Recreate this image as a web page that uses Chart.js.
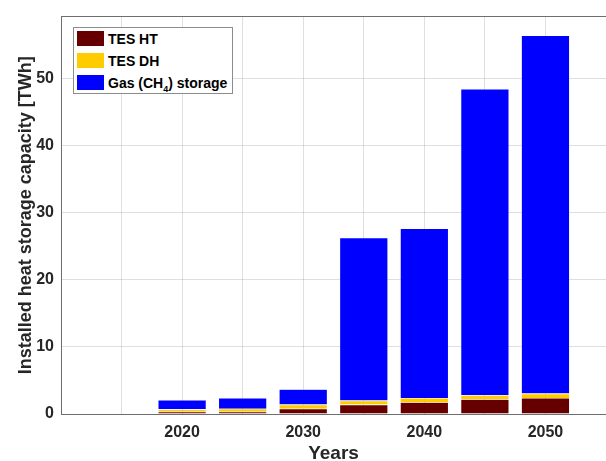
<!DOCTYPE html>
<html>
<head>
<meta charset="utf-8">
<script src="https://cdn.jsdelivr.net/npm/chart.js@4"></script>
<style>
  html, body { margin: 0; padding: 0; background: #fff; }
  #wrap { position: relative; width: 606px; height: 461px; }
  #legend {
    position: absolute; left: 73px; top: 27px; width: 158px; height: 65px;
    border: 1px solid #8c8c8c; background: #fff;
    font-family: "Liberation Sans", Arial, sans-serif; font-weight: bold; font-size: 14px; color: #000;
  }
  .row { position: absolute; left: 3px; height: 16px; line-height: 16px; white-space: nowrap; }
  .sw { display: inline-block; width: 27px; height: 15px; vertical-align: top; margin-right: 4px; }
  sub { font-size: 9px; line-height: 0; }
</style>
</head>
<body>
<div id="wrap">
  <canvas id="chart" width="606" height="461"></canvas>
  <div id="legend"></div>
</div>
<script>
// years of each bar
const years = [2020, 2025, 2030, 2035, 2040, 2045, 2050];
// installed capacity, TWh
const tesHT = [0.35, 0.35, 0.8, 1.4, 1.75, 2.2, 2.4];
const tesDH = [0.35, 0.45, 0.6, 0.6, 0.65, 0.6, 0.65];
const gasCH4 = [1.4, 1.6, 2.3, 24.3, 25.3, 45.7, 53.45];
const yTicks = [0, 10, 20, 30, 40, 50];
const xTicks = [2010, 2015, 2020, 2025, 2030, 2035, 2040, 2045, 2050, 2055];

const seriesNames = ['TES HT', 'TES DH', 'Gas (CH<sub>4</sub>) storage'];
const seriesPlain = ['TES HT', 'TES DH', 'Gas (CH\u2084) storage'];
const colors = ['#660000', '#ffcc00', '#0000ff'];

const FONT = '"Liberation Sans", Arial, sans-serif';
const gridColor = 'rgba(38,38,38,0.15)';
const axisColor = '#6e6e6e';

const pts = arr => years.map((x, i) => ({ x: x, y: arr[i] }));

const datasets = [tesHT, tesDH, gasCH4].map((arr, i) => ({
    label: seriesPlain[i],
    data: pts(arr),
    backgroundColor: colors[i],
    borderColor: 'rgba(255,255,255,0.3)',
    borderWidth: 0.6,
    barPercentage: 0.8,
    categoryPercentage: 1
}));

// no side padding on horizontal axes, plot runs to the right edge
const noPad = s => { s.paddingLeft = 0; s.paddingRight = 0; };

new Chart(document.getElementById('chart'), {
    type: 'bar',
    data: { datasets: datasets },
    options: {
        responsive: false,
        animation: false,
        layout: { padding: { top: 15, right: 0, left: 0, bottom: 0 } },
        plugins: { legend: { display: false }, tooltip: { enabled: false } },
        scales: {
            x: {
                type: 'linear',
                stacked: true,
                offset: false,
                min: 2010,
                max: 2055,
                afterBuildTicks: s => { s.ticks = xTicks.map(v => ({ value: v })); },
                afterFit: s => { s.height = 47; noPad(s); },
                ticks: {
                    autoSkip: false,
                    maxRotation: 0,
                    padding: 9,
                    color: '#262626',
                    font: { family: FONT, size: 16, weight: 'bold' },
                    callback: v => (v % 10 === 0 && v > 2010 && v < 2055) ? String(v) : ''
                },
                grid: { color: gridColor, drawTicks: false, offset: false },
                border: { color: axisColor, width: 1 },
                title: {
                    display: true, text: 'Years', color: '#262626',
                    font: { family: FONT, size: 19, weight: 'bold' },
                    padding: { top: 0, bottom: -4 }
                }
            },
            xTop: {
                type: 'linear',
                position: 'top',
                offset: false,
                min: 2010,
                max: 2055,
                afterFit: s => { s.height = 0; noPad(s); },
                ticks: { display: false },
                grid: { drawOnChartArea: false, drawTicks: false },
                border: { color: axisColor, width: 1 }
            },
            y: {
                stacked: true,
                min: 0,
                max: 59.3,
                afterBuildTicks: s => { s.ticks = yTicks.map(v => ({ value: v })); },
                afterFit: s => { s.width = 61; },
                ticks: {
                    padding: 7,
                    color: '#262626',
                    font: { family: FONT, size: 16, weight: 'bold' }
                },
                grid: { color: gridColor, drawTicks: false },
                border: { color: axisColor, width: 1 },
                title: {
                    display: true, text: 'Installed heat storage capacity [TWh]', color: '#262626',
                    font: { family: FONT, size: 18, weight: 'bold' },
                    padding: { top: 15, bottom: 0 }
                }
            }
        }
    }
});

// legend box drawn as html over the plot
const legend = document.getElementById('legend');
seriesNames.forEach((name, i) => {
    const row = document.createElement('div');
    row.className = 'row';
    row.style.top = (3 + i * 22) + 'px';
    row.innerHTML = `<span class="sw" style="background:${colors[i]}"></span>${name}`;
    legend.appendChild(row);
});
</script>
</body>
</html>
